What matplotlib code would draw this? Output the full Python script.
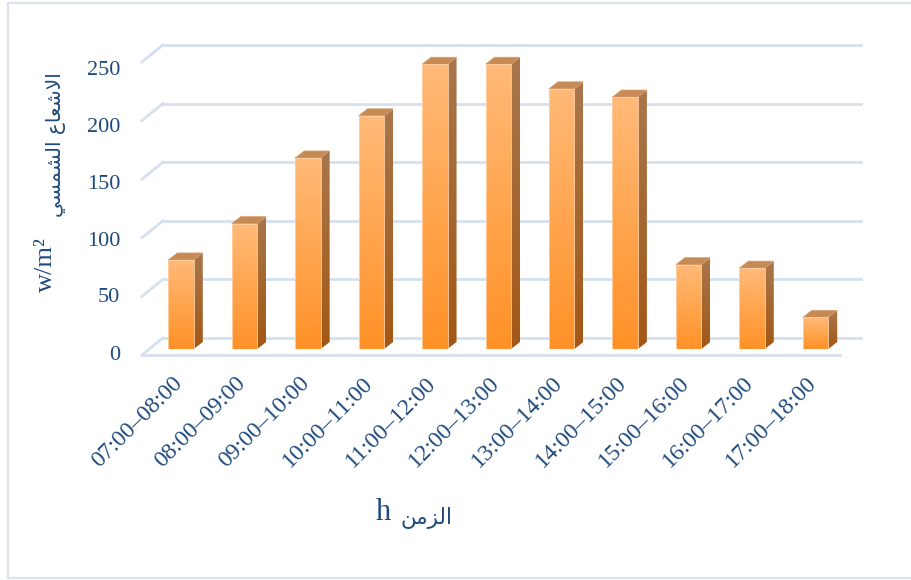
import matplotlib.pyplot as plt
import numpy as np
from matplotlib.colors import LinearSegmentedColormap
from matplotlib.patches import Polygon
from matplotlib.lines import Line2D

# Data: hourly solar radiation (w/m2)
hours = ['07:00–08:00', '08:00–09:00', '09:00–10:00', '10:00–11:00', '11:00–12:00',
         '12:00–13:00', '13:00–14:00', '14:00–15:00', '15:00–16:00', '16:00–17:00',
         '17:00–18:00']
radiation = [76, 107, 163, 199, 243, 243, 222, 215, 72, 69, 27]
yticks = [0, 50, 100, 150, 200, 250]

# Arabic text written in presentation forms, visual order
ylabel_ar = 'ﻲﺴﻤﺸﻟﺍ ﻉﺎﻌﺷﻻﺍ'   # الاشعاع الشمسي
xlabel_ar = 'ﻦﻣﺰﻟﺍ'            # الزمن

W, H = 911, 580
fig = plt.figure(figsize=(W / 100, H / 100), dpi=100)
ax = fig.add_axes([149.3 / W, (H - 349) / H, (847.2 - 149.3) / W, 293 / H])
ax.set_xlim(-0.5, 10.5)
ax.set_ylim(0, 250)
ax.axis('off')

# pixel -> data unit conversion
ux = ax.transData.transform((1, 0))[0] - ax.transData.transform((0, 0))[0]
uy = ax.transData.transform((0, 1))[1] - ax.transData.transform((0, 0))[1]

grid_col = '#D5E0F0'
text_col = '#1F4A7C'
serif = ['Liberation Serif', 'DejaVu Sans']

# wall / floor offsets in pixels relative to the bar plane
fx, fy = -7.4 / ux, -6 / uy
bx, by = 13.6 / ux, 11 / uy
x0, x1 = -0.5, 10.5

for v in yticks:
    # left wall diagonal and back wall line
    ax.add_line(Line2D([x0 + fx, x0 + bx], [v + fy, v + by], color=grid_col, lw=2, clip_on=False, zorder=1))
    ax.add_line(Line2D([x0 + bx, x1 + bx], [v + by, v + by], color=grid_col, lw=2, clip_on=False, zorder=1))
# front floor edge
ax.add_line(Line2D([x0 + fx, x1 + fx], [fy, fy], color=grid_col, lw=2, clip_on=False, zorder=1))

# bars with gradient faces
front_cmap = LinearSegmentedColormap.from_list('front', ['#FF9127', '#FFBA78'])
side_cmap = LinearSegmentedColormap.from_list('side', ['#A35715', '#A8774C'])
grad = np.linspace(0, 1, 256).reshape(-1, 1)
w = 25.5 / ux
dx, dy = 9 / ux, 7 / uy

for i, v in enumerate(radiation):
    l, r = i - w / 2, i + w / 2
    front = ax.imshow(grad, cmap=front_cmap, origin='lower', aspect='auto',
                      extent=[l, r, 0, v], zorder=3, interpolation='bilinear')
    side_poly = Polygon([(r, 0), (r + dx, dy), (r + dx, v + dy), (r, v)],
                        closed=True, facecolor='none', edgecolor='none')
    ax.add_patch(side_poly)
    side = ax.imshow(grad, cmap=side_cmap, origin='lower', aspect='auto',
                     extent=[r, r + dx, 0, v + dy], zorder=3, interpolation='bilinear')
    side.set_clip_path(side_poly)
    top = Polygon([(l, v), (r, v), (r + dx, v + dy), (l + dx, v + dy)],
                  closed=True, facecolor='#C78A55', edgecolor='#D9A070', lw=0.5, zorder=4)
    ax.add_patch(top)
    ax.add_patch(Polygon([(l, 0), (r, 0), (r, v), (l, v)], closed=True,
                         facecolor='none', edgecolor='#FFD2A6', lw=0.6, zorder=4))

ax.set_xlim(-0.5, 10.5)
ax.set_ylim(0, 250)

# y tick labels
for v in yticks:
    ax.text(x0 - 29 / ux, v - (6 + 8 * v / 250) / uy, str(v), ha='right', va='center',
            fontsize=16, color=text_col, family=serif, clip_on=False)

# x tick labels, rotated
for i, lab in enumerate(hours):
    ax.text(i - 2 / ux, -31 / uy, lab, rotation=45, rotation_mode='anchor',
            ha='right', va='center', fontsize=17, color=text_col, family=serif,
            clip_on=False)

# axis titles
fig.text(391 / W, 1 - 513 / H, 'h', ha='right', va='center', fontsize=22,
         color=text_col, family=serif)
fig.text(400 / W, 1 - 518 / H, xlabel_ar, ha='left', va='center', fontsize=15.5,
         color=text_col, family=['DejaVu Sans'])
fig.text(46 / W, 1 - 265 / H, 'w/m²', ha='center', va='center', rotation=90,
         fontsize=19, color=text_col, family=serif)
fig.text(56 / W, 1 - 145 / H, ylabel_ar, ha='center', va='center', rotation=90,
         fontsize=14.5, color=text_col, family=['DejaVu Sans'])

# chart border
fig.add_artist(Line2D([8 / W, 8 / W], [2 / H, 1 - 3 / H], color='#D9E2EE', lw=1.5))
fig.add_artist(Line2D([8 / W, 1], [1 - 3 / H, 1 - 3 / H], color='#D9E2EE', lw=1.5))
fig.add_artist(Line2D([8 / W, 1], [2 / H, 2 / H], color='#D9E2EE', lw=1.5))

plt.savefig('out.png', dpi=100)
